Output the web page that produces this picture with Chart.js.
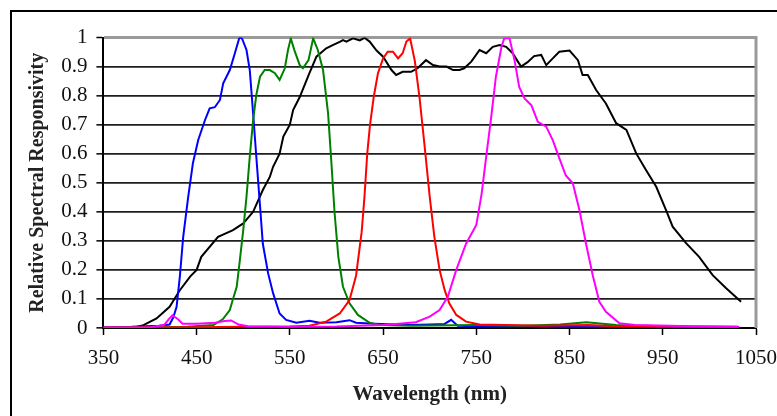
<!DOCTYPE html>
<html>
<head>
<meta charset="utf-8">
<script src="https://cdn.jsdelivr.net/npm/chart.js@4/dist/chart.umd.min.js"></script>
<style>
  html, body { margin: 0; padding: 0; background: #fff; overflow: hidden; width: 777px; height: 416px; }
  #frame { position: absolute; left: 10px; top: 10px; width: 800px; height: 460px; border: 2px solid #000; box-sizing: border-box; }
  #wrap { position: absolute; left: 0; top: 0; width: 777px; height: 416px; }
</style>
</head>
<body>
<div id="frame"></div>
<div id="wrap"><canvas id="c" width="777" height="416"></canvas></div>
<script>
// ---- data (wavelength nm, relative responsivity) ----
const xTickLabels = ['350', '450', '550', '650', '750', '850', '950', '1050'];
const yTickLabels = ['0', '0.1', '0.2', '0.3', '0.4', '0.5', '0.6', '0.7', '0.8', '0.9', '1'];

const blueNm  = [350, 380, 410, 421, 425, 428.5, 432, 435.6, 441, 446, 451.7, 459, 464, 469.5, 475, 478.5, 485.6, 491, 495.6, 497.5, 499, 503.5, 507, 510.6, 514, 517.8, 521, 526.7, 532, 539, 546, 557, 571, 582, 600, 614, 621, 640, 680, 700, 716, 723, 730, 760, 800, 900, 1030];
const blueVal = [0.003, 0.004, 0.008, 0.012, 0.037, 0.073, 0.177, 0.314, 0.452, 0.567, 0.647, 0.716, 0.756, 0.76, 0.785, 0.842, 0.888, 0.946, 0.997, 1.0, 0.994, 0.957, 0.888, 0.739, 0.59, 0.429, 0.29, 0.188, 0.12, 0.05, 0.028, 0.018, 0.025, 0.018, 0.02, 0.027, 0.018, 0.015, 0.01, 0.012, 0.014, 0.028, 0.008, 0.005, 0.004, 0.003, 0.002];

const blackNm  = [350, 370, 382, 393, 407, 421, 432, 443, 450, 455, 473, 489, 500, 510.6, 521, 528.5, 532, 539, 543, 550, 553.5, 560.6, 571, 578.5, 589, 596, 603.5, 607, 610.6, 617.7, 625, 630, 635.6, 643, 650, 659, 664, 671, 680, 687, 696, 703.5, 710.6, 718, 725, 732, 737, 744.6, 753.5, 760.6, 767.7, 775, 782, 789, 794.6, 798, 805, 812, 819.6, 825, 832, 839, 850, 859, 864, 869.6, 878.5, 889, 900, 911, 921.5, 932, 943, 953.5, 960.6, 975, 989, 1003.5, 1018, 1034];
const blackVal = [0, 0, 0.001, 0.01, 0.033, 0.073, 0.13, 0.177, 0.2, 0.245, 0.314, 0.337, 0.36, 0.4, 0.475, 0.52, 0.555, 0.6, 0.659, 0.7, 0.75, 0.795, 0.877, 0.934, 0.963, 0.974, 0.985, 0.991, 0.986, 0.997, 0.99, 0.999, 0.986, 0.955, 0.934, 0.888, 0.871, 0.882, 0.882, 0.894, 0.922, 0.905, 0.9, 0.9, 0.888, 0.888, 0.894, 0.917, 0.957, 0.946, 0.968, 0.974, 0.968, 0.946, 0.917, 0.9, 0.915, 0.936, 0.94, 0.905, 0.928, 0.951, 0.955, 0.922, 0.871, 0.871, 0.819, 0.773, 0.705, 0.682, 0.601, 0.544, 0.486, 0.406, 0.349, 0.292, 0.245, 0.182, 0.137, 0.09];

const greenNm  = [350, 400, 440, 468, 478, 485.6, 489, 493, 496, 500, 503.5, 507, 510.6, 514, 518, 523, 528.5, 534, 539, 544.6, 548, 551, 555, 560.6, 564, 570, 575, 580, 585.6, 591, 594.6, 598, 602, 607, 614, 623, 635.6, 646, 680, 750, 800, 840, 868, 900, 950, 1030];
const greenVal = [0.002, 0.002, 0.004, 0.01, 0.03, 0.062, 0.1, 0.142, 0.223, 0.337, 0.452, 0.59, 0.716, 0.802, 0.865, 0.888, 0.888, 0.877, 0.854, 0.894, 0.957, 0.997, 0.955, 0.905, 0.894, 0.922, 0.997, 0.957, 0.888, 0.739, 0.567, 0.395, 0.245, 0.142, 0.085, 0.045, 0.018, 0.01, 0.008, 0.01, 0.008, 0.012, 0.02, 0.01, 0.006, 0.004];

const redNm  = [350, 450, 500, 550, 571, 589, 603.5, 614, 621, 627, 630, 633, 636, 640, 644.5, 650, 655, 660.6, 666, 671, 675, 679, 684, 689, 694.6, 700, 705, 710.6, 716, 721, 728.5, 739, 753.5, 780, 820, 870, 900, 950, 1030];
const redVal = [0.002, 0.003, 0.004, 0.005, 0.008, 0.022, 0.05, 0.096, 0.18, 0.33, 0.45, 0.6, 0.7, 0.796, 0.877, 0.928, 0.951, 0.951, 0.928, 0.946, 0.986, 0.997, 0.92, 0.796, 0.624, 0.452, 0.314, 0.2, 0.131, 0.085, 0.045, 0.022, 0.012, 0.01, 0.008, 0.01, 0.006, 0.004, 0.003];

const magentaNm  = [350, 400, 415, 420, 424, 430, 435, 450, 470, 480, 487, 495, 505, 550, 600, 650, 667, 685, 700, 710.6, 719.5, 728.5, 739, 750, 755.6, 760.6, 766, 771, 777, 780, 785.6, 791, 796, 801.7, 809, 816, 825, 832, 839, 846, 853.5, 860.6, 868, 875, 882, 889, 903.5, 920, 982, 1032];
const magentaVal = [0.002, 0.003, 0.01, 0.03, 0.044, 0.03, 0.015, 0.015, 0.018, 0.024, 0.026, 0.012, 0.006, 0.004, 0.005, 0.01, 0.015, 0.02, 0.039, 0.062, 0.108, 0.2, 0.29, 0.355, 0.46, 0.59, 0.727, 0.865, 0.968, 0.997, 0.997, 0.922, 0.83, 0.79, 0.767, 0.71, 0.693, 0.647, 0.585, 0.525, 0.498, 0.406, 0.285, 0.18, 0.09, 0.056, 0.016, 0.01, 0.006, 0.004];

function pts(xs, ys) { return xs.map((x, i) => ({ x: x, y: ys[i] })); }
function ds(label, xs, ys, color) {
  return { label: label, data: pts(xs, ys), borderColor: color, backgroundColor: color,
           borderWidth: 2, pointRadius: 0, showLine: true, tension: 0, fill: false };
}

const rightBorder = {
  id: 'rightBorder',
  afterDatasetsDraw(chart) {
    const a = chart.chartArea, ctx = chart.ctx;
    ctx.save();
    ctx.strokeStyle = '#9a9a9a';
    ctx.lineWidth = 3;
    ctx.beginPath();
    ctx.moveTo(a.right, a.top - 1.5);
    ctx.lineTo(a.right, a.bottom);
    ctx.stroke();
    ctx.restore();
  }
};

const serif = "'Liberation Serif', 'Times New Roman', serif";

new Chart(document.getElementById('c'), {
  type: 'scatter',
  data: {
    datasets: [
      ds('Magenta', magentaNm, magentaVal, '#ff00ff'),
      ds('Red', redNm, redVal, '#ff0000'),
      ds('Green', greenNm, greenVal, '#008000'),
      ds('Blue', blueNm, blueVal, '#0000ff'),
      ds('Black', blackNm, blackVal, '#000000')
    ]
  },
  options: {
    responsive: false,
    animation: false,
    layout: { padding: { left: 0, right: 21, top: 37.5, bottom: 0 } },
    plugins: { legend: { display: false }, tooltip: { enabled: false } },
    scales: {
      x: {
        type: 'linear',
        min: 350, max: 1050,
        afterBuildTicks(scale) {
          scale.ticks = xTickLabels.map(t => ({ value: Number(t) }));
        },
        afterFit(scale) { scale.height = 88; scale.paddingLeft = 0; scale.paddingRight = 0; },
        ticks: {
          autoSkip: false, maxRotation: 0,
          padding: 11,
          color: '#111',
          font: { family: serif, size: 21 },
          callback: (v, i) => xTickLabels[i]
        },
        grid: { drawOnChartArea: false, drawTicks: true, tickLength: 7, color: '#000', tickColor: '#000', tickWidth: 1.5 },
        border: { display: true, color: '#000', width: 2 },
        title: {
          display: true, text: 'Wavelength (nm)', color: '#222',
          font: { family: serif, size: 21, weight: 'bold' },
          padding: { top: 0, bottom: 9 }
        }
      },
      y: {
        min: 0, max: 1,
        afterBuildTicks(scale) {
          scale.ticks = yTickLabels.map(t => ({ value: Number(t) }));
        },
        afterFit(scale) { scale.width = 103.4; scale.paddingTop = 0; scale.paddingBottom = 0; },
        ticks: {
          autoSkip: false,
          padding: 9,
          color: '#111',
          font: { family: serif, size: 21 },
          callback: (v, i) => yTickLabels[i]
        },
        grid: {
          drawTicks: true, tickLength: 7,
          color: ctx => (ctx.tick && ctx.tick.value === 1) ? '#9a9a9a' : '#1e1e1e',
          lineWidth: ctx => (ctx.tick && ctx.tick.value === 1) ? 3 : 1.7,
          tickColor: '#000', tickWidth: 1.5
        },
        border: { display: true, color: '#000', width: 2 },
        title: {
          display: true, text: 'Relative Spectral Responsivity', color: '#222',
          font: { family: serif, size: 20, weight: 'bold' },
          padding: { top: 26, bottom: 0 }
        }
      }
    }
  },
  plugins: [rightBorder]
});
</script>
</body>
</html>
